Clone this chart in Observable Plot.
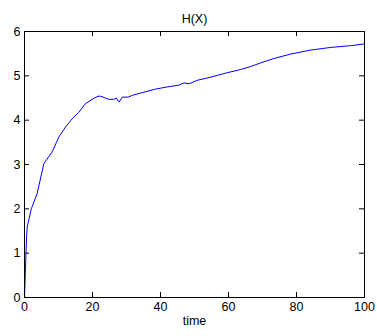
<!DOCTYPE html>
<html>
<head>
<meta charset="utf-8">
<script src="https://cdn.jsdelivr.net/npm/d3@7"></script>
<script src="https://cdn.jsdelivr.net/npm/@observablehq/plot@0.6"></script>
<style>
  body { margin: 0; background: #fff; }
  #chart { width: 377px; height: 336px; }
</style>
</head>
<body>
<div id="chart"></div>
<script>
const titleText = "H(X)";
const xLabel = "time";
const xTicks = [0, 20, 40, 60, 80, 100];
const yTicks = [0, 1, 2, 3, 4, 5, 6];

const time = [0, 0.6, 0.8, 2.0, 3.7, 5.7, 8.1, 10.1, 12.1, 14.0, 16.0, 17.9, 19.9, 21.6, 22.4, 24.8, 26.3, 27.0, 27.8, 28.8, 30.5, 31.7, 35.1, 38.5, 42.0, 45.4, 46.9, 48.4, 50.8, 53.7, 56.7, 59.6, 63.5, 66.5, 69.4, 73.3, 78.2, 84.1, 90.0, 95.9, 100];
const hx   = [0, 1.36, 1.59, 2.0, 2.34, 3.02, 3.28, 3.62, 3.85, 4.03, 4.18, 4.37, 4.47, 4.54, 4.54, 4.47, 4.47, 4.50, 4.41, 4.52, 4.52, 4.56, 4.63, 4.70, 4.75, 4.79, 4.84, 4.82, 4.90, 4.95, 5.01, 5.07, 5.14, 5.21, 5.29, 5.39, 5.49, 5.58, 5.64, 5.68, 5.72];

const data = time.map((t, i) => ({t, h: hx[i]}));
const fmt = d3.format("d");
const xMin = xTicks[0], xMax = xTicks[xTicks.length - 1];
const yMin = yTicks[0], yMax = yTicks[yTicks.length - 1];
const W = 377, H = 336, mL = 24, mR = 13, mT = 31, mB = 39, tickLen = 5;
const innerW = W - mL - mR, innerH = H - mT - mB;
const tk = {stroke: "#000", strokeWidth: 1};

const chart = Plot.plot({
  width: W,
  height: H,
  marginLeft: mL,
  marginRight: mR,
  marginTop: mT,
  marginBottom: mB,
  style: {fontFamily: "'Liberation Sans', Arial, sans-serif", fontSize: "12.5px", color: "#000", background: "#fff"},
  x: {domain: [xMin, xMax], ticks: xTicks, label: null},
  y: {domain: [yMin, yMax], ticks: yTicks, label: null},
  marks: [
    Plot.axisX({anchor: "bottom", ticks: xTicks, tickSize: 0, tickPadding: 5, tickFormat: fmt, fill: "#000"}),
    Plot.axisY({anchor: "left", ticks: yTicks, tickSize: 0, tickPadding: 4, tickFormat: fmt, fill: "#000"}),
    // inward ticks on all four sides
    Plot.ruleX(xTicks, {x: d => d, insetTop: innerH - tickLen, ...tk}),
    Plot.ruleX(xTicks, {x: d => d, insetBottom: innerH - tickLen, ...tk}),
    Plot.ruleY(yTicks, {y: d => d, insetRight: innerW - tickLen, ...tk}),
    Plot.ruleY(yTicks, {y: d => d, insetLeft: innerW - tickLen, ...tk}),
    Plot.line(data, {x: "t", y: "h", stroke: "#0000ff", strokeWidth: 1}),
    Plot.frame({stroke: "#000"}),
    Plot.text([titleText], {frameAnchor: "top", dy: -17, fontSize: 12.5, fill: "#000"}),
    Plot.text([xLabel], {frameAnchor: "bottom", dy: 27, fontSize: 12.5, fill: "#000"})
  ]
});
document.getElementById("chart").appendChild(chart);
</script>
</body>
</html>
